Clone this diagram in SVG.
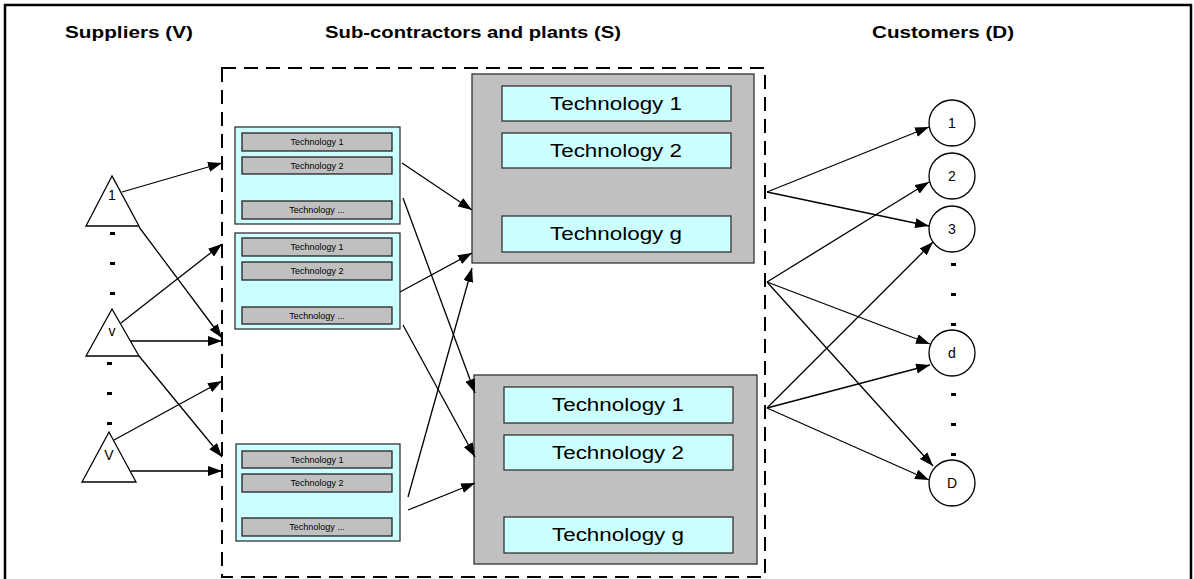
<svg xmlns="http://www.w3.org/2000/svg" width="1194" height="579" viewBox="0 0 1194 579">
<style>
text{font-family:"Liberation Sans",Arial,sans-serif;fill:#000}
.title{font-size:17px;font-weight:bold}
.tech{font-size:18px}
.small{font-size:9px}
.lbl{font-size:14px}
.big{fill:#c0c0c0;stroke:#333;stroke-width:1.3}
.cyan{fill:#ccffff;stroke:#333;stroke-width:1.3}
.bar{fill:#c0c0c0;stroke:#222;stroke-width:1.3}
.node{fill:#fff;stroke:#000;stroke-width:1.3}
.edge{stroke:#000;stroke-width:1.3;fill:none;marker-end:url(#arr)}
.dot{fill:#000}
</style>
<defs>
<marker id="arr" markerWidth="14" markerHeight="10" refX="14" refY="5" orient="auto" markerUnits="userSpaceOnUse">
<path d="M0,0 L14,5 L0,10 Z" fill="#000"/>
</marker>
</defs>
<rect x="0" y="0" width="1194" height="579" fill="#fff"/>
<rect x="5" y="5" width="1186" height="590" fill="none" stroke="#000" stroke-width="2.5"/>
<g id="titles">
<text class="title" x="129" y="38" text-anchor="middle" textLength="128" lengthAdjust="spacingAndGlyphs">Suppliers (V)</text>
<text class="title" x="473" y="38" text-anchor="middle" textLength="296" lengthAdjust="spacingAndGlyphs">Sub-contractors and plants (S)</text>
<text class="title" x="943" y="38" text-anchor="middle" textLength="142" lengthAdjust="spacingAndGlyphs">Customers (D)</text>
</g>
<rect id="plants-boundary" x="222" y="68" width="543" height="509" fill="none" stroke="#000" stroke-width="2" stroke-dasharray="14 8"/>
<g id="tech-group-1">
<rect class="big" x="472" y="74" width="282" height="189"/>
<rect class="cyan" x="502" y="86" width="229" height="35"/>
<text class="tech" x="616" y="110" text-anchor="middle" textLength="132" lengthAdjust="spacingAndGlyphs">Technology 1</text>
<rect class="cyan" x="502" y="133" width="229" height="35"/>
<text class="tech" x="616" y="157" text-anchor="middle" textLength="132" lengthAdjust="spacingAndGlyphs">Technology 2</text>
<rect class="cyan" x="502" y="216" width="229" height="36"/>
<text class="tech" x="616" y="240" text-anchor="middle" textLength="132" lengthAdjust="spacingAndGlyphs">Technology g</text>
</g>
<g id="tech-group-2">
<rect class="big" x="474" y="375" width="283" height="189"/>
<rect class="cyan" x="504" y="387" width="229" height="36"/>
<text class="tech" x="618" y="411" text-anchor="middle" textLength="132" lengthAdjust="spacingAndGlyphs">Technology 1</text>
<rect class="cyan" x="504" y="435" width="229" height="35"/>
<text class="tech" x="618" y="459" text-anchor="middle" textLength="132" lengthAdjust="spacingAndGlyphs">Technology 2</text>
<rect class="cyan" x="504" y="517" width="229" height="36"/>
<text class="tech" x="618" y="541" text-anchor="middle" textLength="132" lengthAdjust="spacingAndGlyphs">Technology g</text>
</g>
<g id="plant-1">
<rect class="cyan" x="235" y="127" width="165" height="97"/>
<rect class="bar" x="242" y="133" width="150" height="18"/>
<text class="small" x="317" y="145" text-anchor="middle">Technology 1</text>
<rect class="bar" x="242" y="157" width="150" height="17"/>
<text class="small" x="317" y="169" text-anchor="middle">Technology 2</text>
<rect class="bar" x="242" y="201" width="150" height="18"/>
<text class="small" x="317" y="213" text-anchor="middle">Technology ...</text>
</g>
<g id="plant-2">
<rect class="cyan" x="235" y="233" width="165" height="96"/>
<rect class="bar" x="242" y="238" width="150" height="18"/>
<text class="small" x="317" y="250" text-anchor="middle">Technology 1</text>
<rect class="bar" x="242" y="262" width="150" height="18"/>
<text class="small" x="317" y="274" text-anchor="middle">Technology 2</text>
<rect class="bar" x="242" y="307" width="150" height="17"/>
<text class="small" x="317" y="319" text-anchor="middle">Technology ...</text>
</g>
<g id="plant-3">
<rect class="cyan" x="236" y="444" width="164" height="97"/>
<rect class="bar" x="242" y="451" width="150" height="17"/>
<text class="small" x="317" y="463" text-anchor="middle">Technology 1</text>
<rect class="bar" x="242" y="474" width="150" height="18"/>
<text class="small" x="317" y="486" text-anchor="middle">Technology 2</text>
<rect class="bar" x="242" y="518" width="150" height="18"/>
<text class="small" x="317" y="530" text-anchor="middle">Technology ...</text>
</g>
<g id="supplier-1">
<polygon class="node" points="112,176 86,226 139,226"/>
<text class="lbl" x="112" y="200" text-anchor="middle" font-size="12">1</text>
</g>
<g id="supplier-v">
<polygon class="node" points="112,309 86,356 139,356"/>
<text class="lbl" x="112" y="336" text-anchor="middle" font-size="12">v</text>
</g>
<g id="supplier-V">
<polygon class="node" points="109,432 82,482 136,482"/>
<text class="lbl" x="109" y="460" text-anchor="middle" font-size="12">V</text>
</g>
<g id="supplier-dots">
<rect class="dot" x="110" y="232" width="5" height="3"/>
<rect class="dot" x="110" y="262" width="5" height="3"/>
<rect class="dot" x="110" y="292" width="5" height="3"/>
<rect class="dot" x="107" y="362" width="5" height="3"/>
<rect class="dot" x="107" y="392" width="5" height="3"/>
<rect class="dot" x="107" y="422" width="5" height="3"/>
</g>
<g id="customer-1">
<circle class="node" cx="952" cy="123" r="23"/>
<text class="lbl" x="952" y="128" text-anchor="middle">1</text>
</g>
<g id="customer-2">
<circle class="node" cx="952" cy="176" r="23"/>
<text class="lbl" x="952" y="181" text-anchor="middle">2</text>
</g>
<g id="customer-3">
<circle class="node" cx="952" cy="229" r="23"/>
<text class="lbl" x="952" y="234" text-anchor="middle">3</text>
</g>
<g id="customer-d">
<circle class="node" cx="952" cy="353" r="23"/>
<text class="lbl" x="952" y="358" text-anchor="middle">d</text>
</g>
<g id="customer-D">
<circle class="node" cx="952" cy="483" r="23"/>
<text class="lbl" x="952" y="488" text-anchor="middle">D</text>
</g>
<g id="customer-dots">
<rect class="dot" x="951" y="263" width="5" height="3"/>
<rect class="dot" x="951" y="293" width="5" height="3"/>
<rect class="dot" x="951" y="323" width="5" height="3"/>
<rect class="dot" x="951" y="393" width="5" height="3"/>
<rect class="dot" x="951" y="423" width="5" height="3"/>
<rect class="dot" x="951" y="453" width="5" height="3"/>
</g>
<g id="connectors">
<line class="edge" x1="122" y1="192" x2="222" y2="163"/>
<line class="edge" x1="139" y1="227" x2="222" y2="338"/>
<line class="edge" x1="121" y1="323" x2="222" y2="244"/>
<line class="edge" x1="130" y1="341" x2="222" y2="341"/>
<line class="edge" x1="139" y1="356" x2="222" y2="457"/>
<line class="edge" x1="114" y1="440" x2="222" y2="381"/>
<line class="edge" x1="131" y1="471" x2="222" y2="471"/>
<line class="edge" x1="402" y1="163" x2="472" y2="210"/>
<line class="edge" x1="403" y1="198" x2="475" y2="393"/>
<line class="edge" x1="400" y1="292" x2="472" y2="253"/>
<line class="edge" x1="403" y1="325" x2="475" y2="457"/>
<line class="edge" x1="408" y1="497" x2="472" y2="268"/>
<line class="edge" x1="408" y1="510" x2="475" y2="483"/>
<line class="edge" x1="767" y1="192" x2="929" y2="127"/>
<line class="edge" x1="767" y1="192" x2="929" y2="226"/>
<line class="edge" x1="767" y1="282" x2="929" y2="182"/>
<line class="edge" x1="767" y1="282" x2="930" y2="344"/>
<line class="edge" x1="767" y1="282" x2="933" y2="466"/>
<line class="edge" x1="767" y1="408" x2="933" y2="242"/>
<line class="edge" x1="767" y1="408" x2="930" y2="365"/>
<line class="edge" x1="767" y1="408" x2="929" y2="480"/>
</g>
</svg>
